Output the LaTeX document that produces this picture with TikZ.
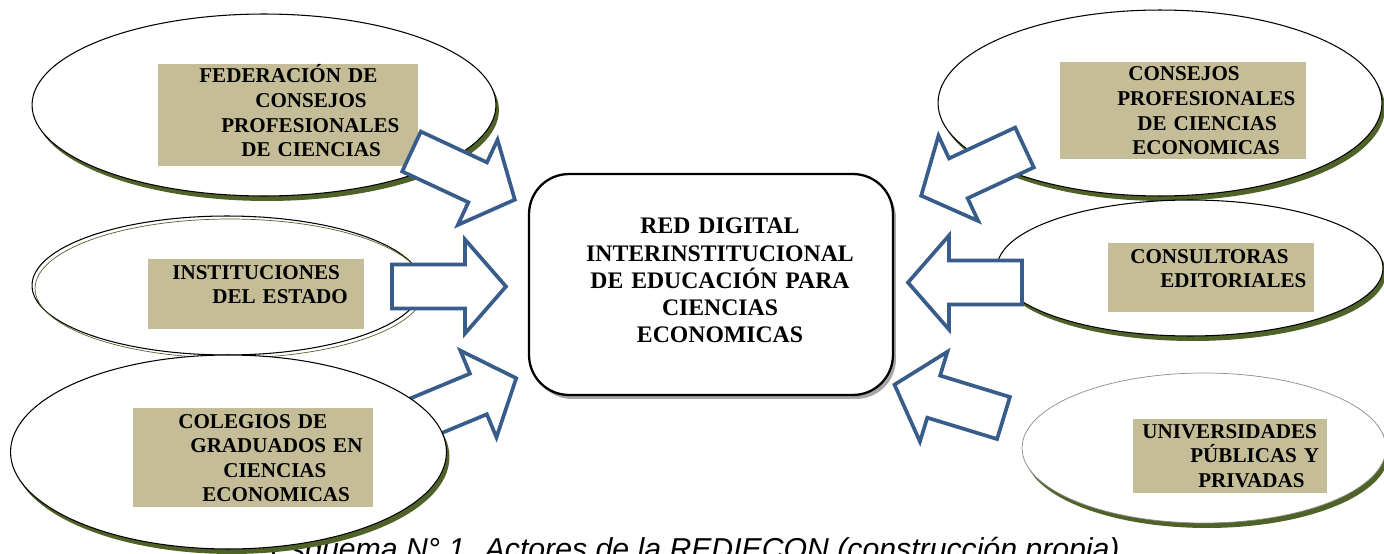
\documentclass[tikz,border=0pt]{standalone}
\usepackage{fontspec}
\setmainfont{Liberation Serif}
\newfontfamily\capfont{Liberation Sans}
\usepackage{tikz}
\usetikzlibrary{calc}
\usetikzlibrary{shapes.geometric}
\usetikzlibrary{shadows}

\definecolor{olivedark}{HTML}{4F6228}
\definecolor{tanfill}{HTML}{C4BD97}
\definecolor{arrowblue}{HTML}{385D8A}

% block arrow: name, tail point, direction
\newcommand{\blockarrow}[3]{%
	\coordinate (#1) at #2;
	\draw [blockline] ($ (#1) + (#3+90:22) $) -- ($ (#1) + (#3:73) + (#3+90:22) $)
		-- ($ (#1) + (#3:73) + (#3+90:47) $) -- ($ (#1) + (#3:114) $)
		-- ($ (#1) + (#3:73) + (#3-90:47) $) -- ($ (#1) + (#3:73) + (#3-90:22) $)
		-- ($ (#1) + (#3-90:22) $) -- cycle;
}

\begin{document}
\begin{tikzpicture}[x=0.02cm, y=-0.02cm,
	actorellipse/.style={ellipse, draw=black, line width=0.6pt, fill=white, inner sep=0pt},
	actorshadow/.style={drop shadow={shadow xshift=0.06cm, shadow yshift=-0.1cm, fill=olivedark, opacity=1}},
	tagbox/.style={fill=tanfill, inner sep=0pt},
	tagtext/.style={font=\fontsize{12}{14}\selectfont\bfseries, text width=5cm, align=left, inner sep=0pt, anchor=base west},
	hubbox/.style={draw=black, line width=1.3pt, rounded corners=0.8cm, fill=white,
		drop shadow={shadow xshift=0.06cm, shadow yshift=-0.08cm, fill=black!35, opacity=1}},
	hubtext/.style={font=\fontsize{13.5}{15.4}\selectfont\bfseries, text width=7cm, align=center, inner sep=0pt, anchor=base},
	blockline/.style={draw=arrowblue, line width=2.1pt, fill=white, line join=miter},
	captext/.style={font=\capfont\itshape\fontsize{17.2}{20}\selectfont, inner sep=0pt, anchor=base east}]
	
	\useasboundingbox (0,0) rectangle (1384,554);
	\clip (0,0) rectangle (1384,554);
	
	% Caption
	\node [captext] (cap) at (1120,559) {Esquema N° 1. Actores de la REDIECON (construcción propia)};
	
	% Arrow behind the lower left actor
	\blockarrow{a3}{(411,422)}{-22.6}
	
	% Actors, left
	\node [actorellipse, actorshadow, minimum width=9.28cm, minimum height=3.64cm] (fed) at (264,105) {};
	\node [actorellipse, minimum width=7.8cm, minimum height=2.78cm] (est) at (227,285.5) {};
	\node [ellipse, draw=olivedark, line width=0.4pt, inner sep=0pt, minimum width=7.8cm, minimum height=2.78cm] (estb) at (230,288.5) {};
	\node [actorellipse, actorshadow, minimum width=8.72cm, minimum height=3.88cm] (col) at (228.5,452) {};
	
	% Actors, right
	\node [actorellipse, actorshadow, minimum width=8.88cm, minimum height=3.72cm] (cons) at (1160,103) {};
	\node [actorellipse, actorshadow, minimum width=7.72cm, minimum height=2.72cm] (edit) at (1190,268) {};
	\node [actorellipse, actorshadow, draw=black!45, line width=0.4pt, minimum width=7.28cm, minimum height=3.0cm] (uni) at (1204,448) {};
	
	% Labels
	\node [tagbox, minimum width=5.2cm, minimum height=2.04cm] (fedbox) at (288,115) {};
	\node [tagtext] (fedtxt) at (199,83) {FEDERACIÓN DE\\\hspace*{1.12cm}CONSEJOS\\\hspace*{0.44cm}PROFESIONALES\\\hspace*{0.84cm}DE CIENCIAS};
	
	\node [tagbox, minimum width=4.32cm, minimum height=1.4cm] (estbox) at (256,294) {};
	\node [tagtext] (esttxt) at (172,279) {INSTITUCIONES\\\hspace*{0.8cm}DEL ESTADO};
	
	\node [tagbox, minimum width=4.8cm, minimum height=1.98cm] (colbox) at (253,457.5) {};
	\node [tagtext] (coltxt) at (178,428) {COLEGIOS DE\\\hspace*{0.24cm}GRADUADOS EN\\\hspace*{0.9cm}CIENCIAS\\\hspace*{0.48cm}ECONOMICAS};
	
	\node [tagbox, minimum width=4.92cm, minimum height=1.94cm] (consbox) at (1183,110.5) {};
	\node [tagtext] (constxt) at (1117,81) {\hspace*{0.22cm}CONSEJOS\\PROFESIONALES\\\hspace*{0.4cm}DE CIENCIAS\\\hspace*{0.3cm}ECONOMICAS};
	
	\node [tagbox, minimum width=4.12cm, minimum height=1.38cm] (editbox) at (1211,277.5) {};
	\node [tagtext] (edittxt) at (1130,263) {CONSULTORAS\\\hspace*{0.6cm}EDITORIALES};
	
	\node [tagbox, minimum width=3.88cm, minimum height=1.48cm] (unibox) at (1230,456) {};
	\node [tagtext] (unitxt) at (1142,438) {UNIVERSIDADES\\\hspace*{0.96cm}PÚBLICAS Y\\\hspace*{1.12cm}PRIVADAS};
	
	% Hub
	\node [hubbox, minimum width=7.28cm, minimum height=4.42cm] (hub) at (711,284.5) {};
	\node [hubtext] (hubtxt) at (720,234) {RED DIGITAL\\INTERINSTITUCIONAL\\DE EDUCACIÓN PARA\\CIENCIAS\\ECONOMICAS};
	
	% Arrows
	\foreach \name/\x/\y/\a in {a1/411.5/151.5/25, a2/392/286.5/0, a4/1024.5/147.5/155, a5/1022/282.5/180, a6/1003.5/418/197} {
		\blockarrow{\name}{(\x,\y)}{\a}
	}
	
\end{tikzpicture}
\end{document}
